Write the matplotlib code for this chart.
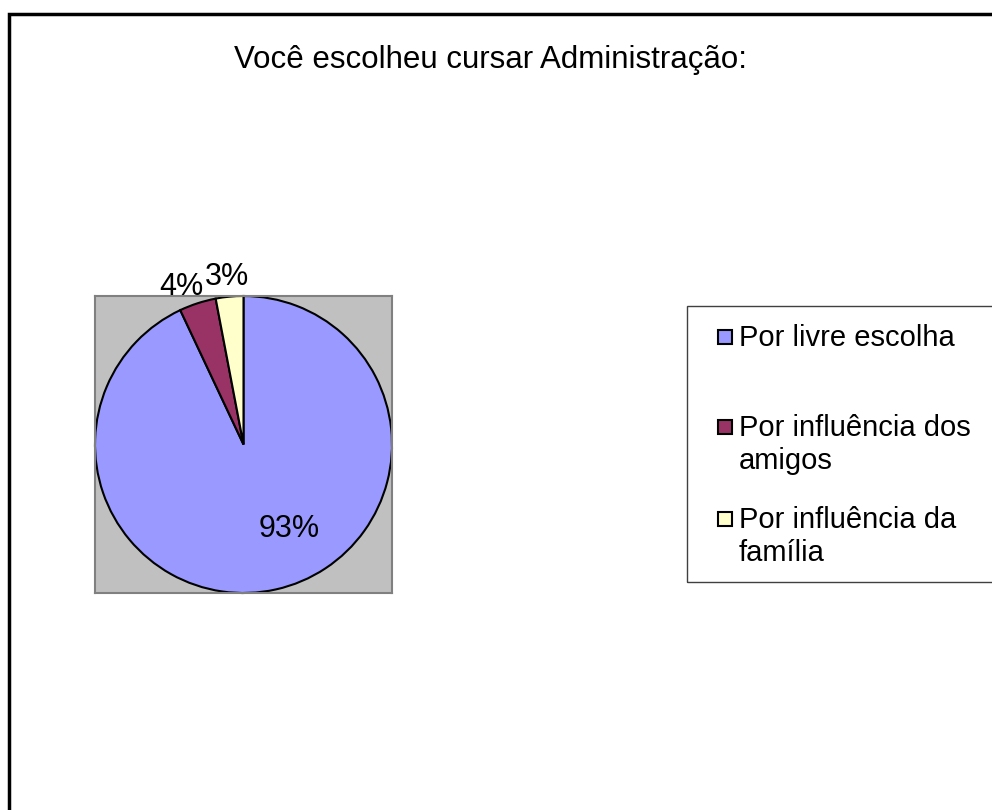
import matplotlib.pyplot as plt
from matplotlib.patches import Rectangle

plt.rcParams['font.family'] = ['Liberation Sans', 'DejaVu Sans']

# data
labels = ["Por livre escolha", "Por influência dos\namigos", "Por influência da\nfamília"]
values = [93, 4, 3]
pct_labels = ["93%", "4%", "3%"]
colors = ["#9999FF", "#993366", "#FFFFCC"]
title = "Você escolheu cursar Administração:"

W, H = 992, 810
fig = plt.figure(figsize=(W / 100, H / 100), dpi=100)

# outer chart border (cut at right / bottom)
fig.patches.append(Rectangle((9 / W, -0.1), 1.2, 1 - 14 / H + 0.1,
                             transform=fig.transFigure, fill=False,
                             edgecolor="black", linewidth=2.5))

fig.text(490 / W, 1 - 60 / H, title, ha="center", va="center", fontsize=22.5)

# pie area
ax = fig.add_axes([95 / W, 1 - 593 / H, 297 / W, 297 / H])
wedges, _ = ax.pie(values, colors=colors, startangle=90, counterclock=False,
                   radius=1, frame=True,
                   wedgeprops=dict(edgecolor="black", linewidth=1.5))
ax.set_facecolor("#C0C0C0")
for s in ax.spines.values():
    s.set_visible(True)
    s.set_edgecolor("#808080")
    s.set_linewidth(1.5)
ax.set_xlim(-1, 1)
ax.set_ylim(-1, 1)
ax.set_aspect("auto")
ax.set_xticks([])
ax.set_yticks([])

# percentage labels
ax.text(0.31, -0.57, pct_labels[0], ha="center", va="center", fontsize=22)
ax.text(-0.42, 1.06, pct_labels[1], ha="center", va="center", fontsize=22, clip_on=False)
ax.text(-0.11, 1.13, pct_labels[2], ha="center", va="center", fontsize=22, clip_on=False)

# legend box
fig.patches.append(Rectangle((687 / W, 1 - 582 / H), 0.5, 276 / H,
                             transform=fig.transFigure, fill=False,
                             edgecolor="#404040", linewidth=1))
baselines = [346, 436, 528]
for lab, col, base in zip(labels, colors, baselines):
    fig.patches.append(Rectangle((718 / W, 1 - (base - 2) / H), 14 / W, 14 / H,
                                 transform=fig.transFigure, facecolor=col,
                                 edgecolor="black", linewidth=1.5))
    for i, line in enumerate(lab.split("\n")):
        fig.text(739 / W, 1 - (base + 33 * i) / H, line, ha="left",
                 va="baseline", fontsize=21)

fig.savefig("out.png", dpi=100)
